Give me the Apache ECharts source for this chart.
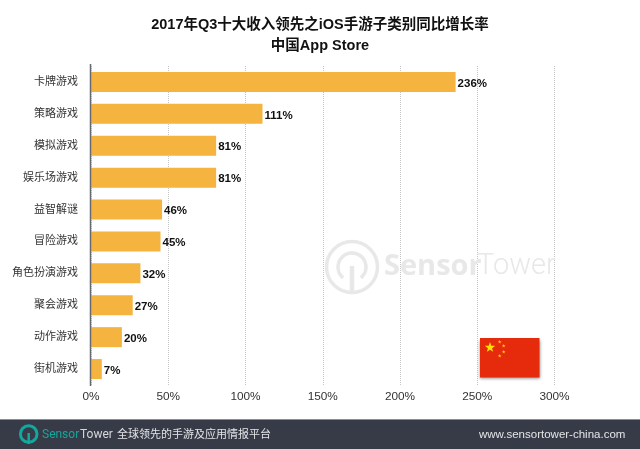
<!DOCTYPE html>
<html>
<head>
<meta charset="utf-8">
<style>
html, body { margin: 0; padding: 0; background: #fff; }
#chart { width: 640px; height: 449px; }
</style>
<script src="https://cdn.jsdelivr.net/npm/echarts@6/dist/echarts.min.js"></script>
</head>
<body>
<div id="chart"></div>
<script>
const categorias = ['卡牌游戏', '策略游戏', '模拟游戏', '娱乐场游戏', '益智解谜', '冒险游戏', '角色扮演游戏', '聚会游戏', '动作游戏', '街机游戏'];
const valores = [236, 111, 81, 81, 46, 45, 32, 27, 20, 7];
const titulo = '2017年Q3十大收入领先之iOS手游子类别同比增长率';
const subtitulo = '中国App Store';
const lema = '全球领先的手游及应用情报平台';
const web = 'www.sensortower-china.com';

const fuente = '"Liberation Sans", "Noto Sans CJK SC", sans-serif';
const naranja = '#f5b440';
const gris_footer = '#363b47';
const agua = '#e8e8e8';

function puntosEstrella(cx, cy, r) {
    let pts = [];
    for (let i = 0; i < 10; i++) {
        const rad = i % 2 ? r * 0.4 : r;
        const ang = -Math.PI / 2 + i * Math.PI / 5;
        pts.push([cx + rad * Math.cos(ang), cy + rad * Math.sin(ang)]);
    }
    return pts;
}

function estrella(cx, cy, r, color) {
    return { type: 'polygon', z: 30, shape: { points: puntosEstrella(cx, cy, r) }, style: { fill: color } };
}

var myChart = echarts.init(document.getElementById('chart'), null, { renderer: 'canvas' });
var option = {
    animation: false,
    textStyle: { fontFamily: fuente },
    title: [
        { text: titulo, left: 'center', top: 13, textStyle: { fontSize: 14.5, fontWeight: 'bold', color: '#111', fontFamily: fuente } },
        { text: subtitulo, left: 'center', top: 34, textStyle: { fontSize: 14.5, fontWeight: 'bold', color: '#111', fontFamily: fuente } }
    ],
    grid: { left: 91, top: 66, width: 463.5, height: 319 },
    xAxis: {
        type: 'value',
        min: 0,
        max: 300,
        interval: 50,
        axisLine: { show: false },
        axisTick: { show: false },
        axisLabel: { formatter: '{value}%', fontSize: 11.8, color: '#333', margin: 6, fontFamily: fuente },
        splitLine: { show: true, lineStyle: { type: 'dotted', color: '#c4c4c4', width: 1 } }
    },
    yAxis: {
        type: 'category',
        inverse: true,
        data: categorias,
        axisLine: { show: false },
        axisTick: { show: false },
        axisLabel: { fontSize: 11, color: '#333', margin: 13, fontFamily: fuente, padding: [3, 0, 0, 0] },
        splitLine: { show: false }
    },
    series: [{
        type: 'bar',
        data: valores,
        barWidth: 20,
        z: 3,
        itemStyle: { color: naranja },
        label: {
            show: true,
            position: 'right',
            distance: 2,
            offset: [0, 1.5],
            formatter: '{c}%',
            fontSize: 11.5,
            fontWeight: 'bold',
            color: '#111',
            fontFamily: fuente
        }
    }],
    graphic: [
        // eje vertical
        { type: 'line', z: 20, shape: { x1: 90.5, y1: 64, x2: 90.5, y2: 386 }, style: { stroke: '#666a70', lineWidth: 1.5 } },
        // marca de agua
        { type: 'circle', z: 1, shape: { cx: 352, cy: 267, r: 25.5 }, style: { fill: 'none', stroke: agua, lineWidth: 3.5 } },
        { type: 'arc', z: 1, shape: { cx: 352, cy: 267, r: 14, startAngle: Math.PI * 0.72, endAngle: Math.PI * 0.28 }, style: { fill: 'none', stroke: agua, lineWidth: 3.5 } },
        { type: 'line', z: 1, shape: { x1: 352, y1: 266, x2: 352, y2: 292 }, style: { stroke: agua, lineWidth: 4.5 } },
        { type: 'text', z: 1, x: 384, y: 267, style: { text: 'Sensor', fontSize: 29, fontWeight: 'bold', fill: agua, verticalAlign: 'middle', fontFamily: '"Open Sans", sans-serif' } },
        { type: 'text', z: 1, x: 477, y: 267, style: { text: 'Tower', fontSize: 29, fill: agua, verticalAlign: 'middle', fontFamily: 'Roboto, sans-serif', fontWeight: 300 } },
        // bandera
        { type: 'rect', z: 30, shape: { x: 480, y: 338, width: 59.5, height: 39.5 }, style: { fill: '#e52b0b', shadowBlur: 3, shadowColor: 'rgba(0,0,0,0.45)', shadowOffsetX: 0, shadowOffsetY: 1.5 } },
        estrella(490, 347.5, 5.4, '#fde400'),
        estrella(499.7, 342, 2, '#fdc400'),
        estrella(503.7, 346, 2, '#fdc400'),
        estrella(503.7, 352, 2, '#fdc400'),
        estrella(499.7, 356, 2, '#fdc400'),
        // pie
        { type: 'rect', z: 40, shape: { x: 0, y: 419, width: 640, height: 30 }, style: { fill: gris_footer } },
        { type: 'line', z: 41, shape: { x1: 0, y1: 419.5, x2: 640, y2: 419.5 }, style: { stroke: '#8a8d94', lineWidth: 1 } },
        { type: 'circle', z: 41, shape: { cx: 28.7, cy: 434, r: 8.3 }, style: { fill: 'none', stroke: '#12a89d', lineWidth: 3 } },
        { type: 'line', z: 41, shape: { x1: 28.7, y1: 433, x2: 28.7, y2: 444 }, style: { stroke: '#12a89d', lineWidth: 2.5 } },
        { type: 'text', z: 41, x: 42, y: 434.5, style: { text: 'Sensor', fontSize: 12, fill: '#12a89d', verticalAlign: 'middle', fontFamily: 'Roboto, sans-serif' } },
        { type: 'text', z: 41, x: 80, y: 434.5, style: { text: 'Tower', fontSize: 12, fill: '#d5d7da', verticalAlign: 'middle', fontFamily: 'Roboto, sans-serif' } },
        { type: 'text', z: 41, x: 117, y: 435, style: { text: lema, fontSize: 11, fill: '#e4e5e7', verticalAlign: 'middle', fontFamily: fuente } },
        { type: 'text', z: 41, x: 479, y: 434.5, style: { text: web, fontSize: 11.5, fill: '#e4e5e7', verticalAlign: 'middle', fontFamily: fuente } }
    ]
};
myChart.setOption(option);
</script>
</body>
</html>
